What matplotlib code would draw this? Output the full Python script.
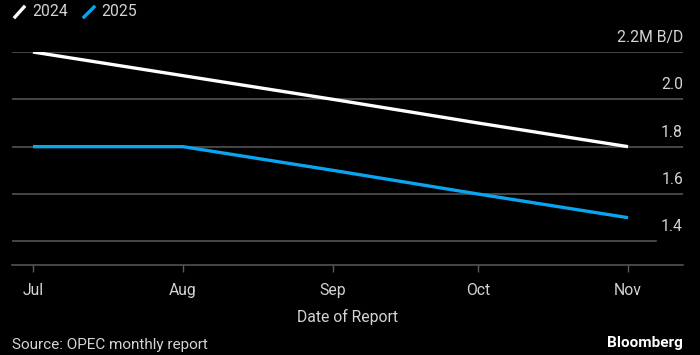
import matplotlib
matplotlib.use('Agg')
import matplotlib.pyplot as plt
from matplotlib.lines import Line2D
import pandas as pd

plt.rcParams['font.family'] = ['Roboto', 'DejaVu Sans']

# OPEC demand growth forecasts by report month (million barrels/day)
report_dates = pd.to_datetime(['2024-07-01', '2024-08-01', '2024-09-01',
                               '2024-10-01', '2024-11-01'])
tick_labels = ['Jul', 'Aug', 'Sep', 'Oct', 'Nov']
growth_2024 = [2.2, 2.1, 2.0, 1.9, 1.8]
growth_2025 = [1.8, 1.8, 1.7, 1.6, 1.5]
y_ticks = [1.4, 1.6, 1.8, 2.0, 2.2]
y_labels = ['1.4', '1.6', '1.8', '2.0', '2.2M B/D']

BG = '#000000'
TXT = '#d4d4d4'
GRID = '#5a5a5a'
WHITE = '#ffffff'
BLUE = '#0aa5f0'

fig = plt.figure(figsize=(7, 3.55), dpi=100, facecolor=BG)
ax = fig.add_axes([12 / 700, 90 / 355, 671 / 700, 213 / 355])
ax.set_facecolor(BG)

for v in y_ticks:
    xmax = 0.96 if v == 1.4 else 1.0
    ax.axhline(v, xmin=0, xmax=xmax, color=GRID, lw=1.1, zorder=1)
ax.axhline(1.3, color=GRID, lw=1.1, zorder=1, clip_on=False)

ax.plot(report_dates, growth_2024, color=WHITE, lw=2.4, zorder=3,
        solid_capstyle='butt')
ax.plot(report_dates, growth_2025, color=BLUE, lw=2.4, zorder=3,
        solid_capstyle='butt')

ax.set_ylim(1.3, 2.2)
ax.set_xlim(report_dates[0] - pd.Timedelta(days=4.34),
            report_dates[-1] + pd.Timedelta(days=11.37))

for s in ax.spines.values():
    s.set_visible(False)
ax.set_yticks([])
ax.set_xticks(report_dates)
ax.set_xticklabels(tick_labels)
ax.tick_params(axis='x', length=5, width=1, color=GRID, labelcolor=TXT,
               labelsize=11.3, pad=8)
ax.set_xlabel('Date of Report', color=TXT, fontsize=11.3, labelpad=8)

for v, lab in zip(y_ticks, y_labels):
    ax.annotate(lab, xy=(1, v), xycoords=('axes fraction', 'data'),
                xytext=(0, 5), textcoords='offset points',
                ha='right', va='bottom', color=TXT, fontsize=11.3)

# legend
fig.add_artist(Line2D([15 / 700, 24 / 700], [1 - 17 / 355, 1 - 7 / 355],
                      color=WHITE, lw=2.4, transform=fig.transFigure))
fig.text(32 / 700, 1 - 12 / 355, '2024', color=TXT, fontsize=11.3,
         ha='left', va='center')
fig.add_artist(Line2D([84 / 700, 94 / 700], [1 - 17 / 355, 1 - 7 / 355],
                      color=BLUE, lw=2.4, transform=fig.transFigure))
fig.text(101 / 700, 1 - 12 / 355, '2025', color=TXT, fontsize=11.3,
         ha='left', va='center')

fig.text(12 / 700, 1 - 345 / 355, 'Source: OPEC monthly report', color=TXT,
         fontsize=11, ha='left', va='center')
fig.text(683 / 700, 1 - 343 / 355, 'Bloomberg', color=WHITE, fontsize=11,
         fontweight='bold', ha='right', va='center')

fig.savefig('out.png', dpi=100, facecolor=BG)
